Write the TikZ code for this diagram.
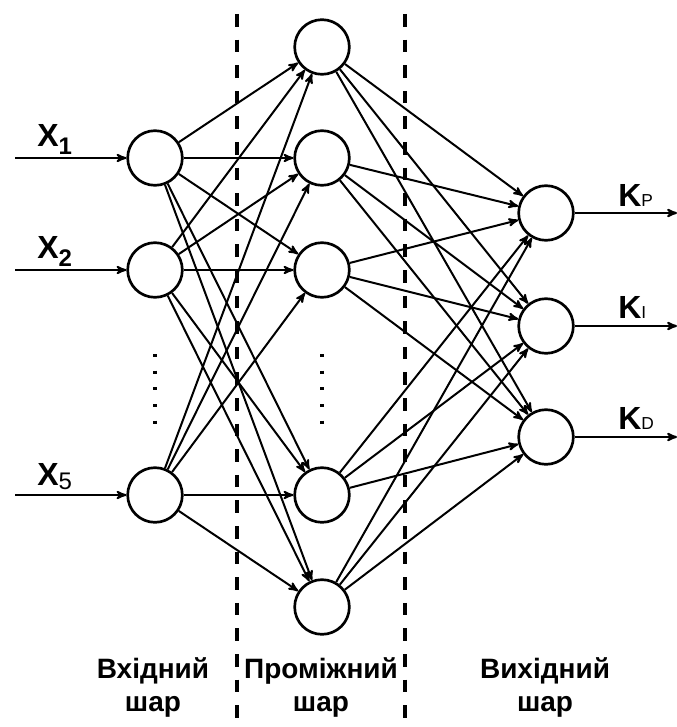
\documentclass[tikz,border=0pt]{standalone}
\usepackage{fontspec}
\setmainfont{Liberation Sans}
\usepackage{tikz}
\usetikzlibrary{arrows}
\tikzset{
  layer_node/.style = {circle, draw=black, line width=2pt, fill=white,
    minimum size=41pt, inner sep=0pt},% neuron
  sig_line/.style = {->, >=stealth', line width=1.5pt},% connector
  sig_label/.style = {anchor=base west, inner sep=0pt,
    font=\fontsize{24}{24}\selectfont\bfseries},% X and K labels
  layer_label/.style = {anchor=north, inner sep=0pt, align=center,
    font=\fontsize{21}{25}\selectfont\bfseries},% layer names
  layer_border/.style = {line width=2.6pt, dash pattern=on 9.5pt off 9.7pt},
  dot_column/.style = {line width=2.3pt, dash pattern=on 2.3pt off 10.2pt}
}
\newcommand{\subbig}[1]{\raisebox{-6pt}{\fontsize{18}{18}\selectfont #1}}
\newcommand{\subsmall}[1]{{\fontsize{13}{13}\selectfont\mdseries #1}}

\begin{document}
\begin{tikzpicture}[x=0.75pt, y=-0.75pt]
    \useasboundingbox (0,0) rectangle (677,727);
    % layer borders
    \coordinate (b1_top) at (237,14);
    \coordinate (b1_bot) at (237,727);
    \coordinate (b2_top) at (405,14);
    \coordinate (b2_bot) at (405,727);
    \draw [layer_border] (b1_top) -- (b1_bot);
    \draw [layer_border] (b2_top) -- (b2_bot);

    % input layer
    \node [layer_node] (in1) at (155,158) {};
    \node [layer_node] (in2) at (155,270) {};
    \node [layer_node] (in5) at (155,495) {};
    % hidden layer
    \node [layer_node] (h1) at (322,47) {};
    \node [layer_node] (h2) at (322,158) {};
    \node [layer_node] (h3) at (322,270) {};
    \node [layer_node] (h4) at (322,495) {};
    \node [layer_node] (h5) at (322,607) {};
    % output layer
    \node [layer_node] (out1) at (546,213) {};
    \node [layer_node] (out2) at (546,326) {};
    \node [layer_node] (out3) at (546,437) {};

    % dots
    \draw [dot_column] (155,354) -- (155,425);
    \draw [dot_column] (322,354) -- (322,425);

    % connections
    \foreach \i in {in1,in2,in5}
      \foreach \j in {h1,h2,h3,h4,h5}
        \draw [sig_line] (\i) -- (\j);
    \foreach \j in {h1,h2,h3,h4,h5}
      \foreach \k in {out1,out2,out3}
        \draw [sig_line] (\j) -- (\k);

    % inputs
    \coordinate (x1_start) at (15,158);
    \coordinate (x2_start) at (15,270);
    \coordinate (x5_start) at (15,495);
    \draw [sig_line] (x1_start) -- (in1);
    \draw [sig_line] (x2_start) -- (in2);
    \draw [sig_line] (x5_start) -- (in5);
    \node [sig_label] (x1) at (37,147) {X\subbig{1}};
    \node [sig_label] (x2) at (37,258) {X\subbig{2}};
    \node [sig_label] (x5) at (37,485) {X\raisebox{-3pt}{\fontsize{18}{18}\selectfont\mdseries 5}};

    % outputs
    \coordinate (kp_end) at (677,213);
    \coordinate (ki_end) at (677,326);
    \coordinate (kd_end) at (677,437);
    \draw [sig_line] (out1) -- (kp_end);
    \draw [sig_line] (out2) -- (ki_end);
    \draw [sig_line] (out3) -- (kd_end);
    \node [sig_label] (kp) at (618,206) {K\subsmall{P}};
    \node [sig_label] (ki) at (618,318) {K\subsmall{I}};
    \node [sig_label] (kd) at (618,429) {K\subsmall{D}};

    % layer names
    \node [layer_label] (in_name) at (153,657) {Вхідний\\шар};
    \node [layer_label] (hid_name) at (321,657) {Проміжний\\шар};
    \node [layer_label] (out_name) at (545,657) {Вихідний\\шар};
\end{tikzpicture}
\end{document}
